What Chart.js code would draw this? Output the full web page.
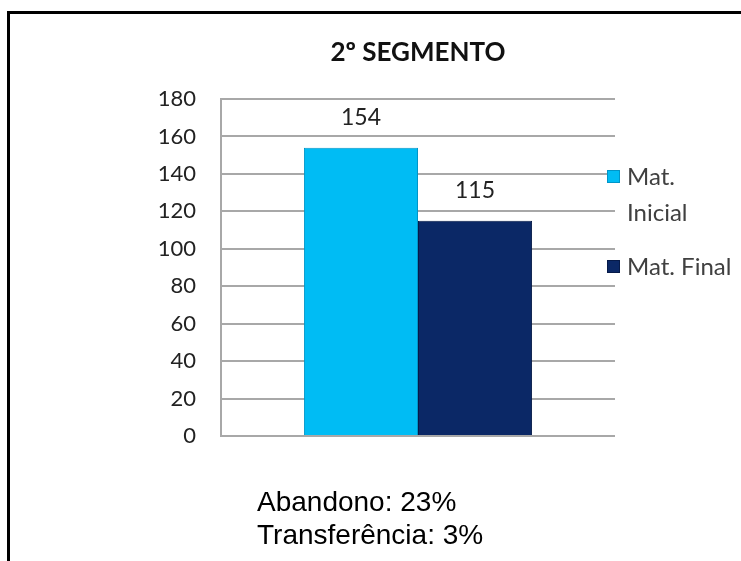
<!DOCTYPE html>
<html><head><meta charset="utf-8">
<script src="https://cdn.jsdelivr.net/npm/chart.js@4/dist/chart.umd.min.js"></script>
<style>
html,body{margin:0;padding:0;background:#fff;}
#wrap{position:relative;width:741px;height:561px;overflow:hidden;background:#fff;}
#frame{position:absolute;left:7px;top:11px;width:760px;height:600px;border-top:3px solid #000;border-left:3px solid #000;}
canvas{position:absolute;left:0;top:0;}
.note{position:absolute;left:257px;font-family:"Liberation Sans",Arial,sans-serif;font-size:28px;color:#000;line-height:30px;}
</style></head>
<body><div id="wrap"><div id="frame"></div><canvas id="c" width="741" height="561"></canvas>
<div class="note" style="top:487px">Abandono: 23%</div>
<div class="note" style="top:520px">Transferência: 3%</div>
</div>
<script>
const chartTitle = '2º SEGMENTO';
const categories = [''];
const seriesNames = ['Mat. Inicial', 'Mat. Final'];
const legendLines = [['Mat.', 'Inicial'], ['Mat. Final']];
const matInicial = [154];
const matFinal = [115];
const yMin = 0, yMax = 180, yStep = 20;

const colors = ['#00BCF4', '#0B2866'];
const borders = ['#0095C8', '#061A48'];

const extras = {
  id: 'extras',
  afterDatasetsDraw(chart) {
    const ctx = chart.ctx;
    ctx.save();
    // value labels
    ctx.font = '23px Lato, "Open Sans", sans-serif';
    ctx.fillStyle = '#222';
    ctx.textAlign = 'center';
    ctx.textBaseline = 'middle';
    chart.data.datasets.forEach((ds, i) => {
      const meta = chart.getDatasetMeta(i);
      meta.data.forEach((bar, j) => {
        ctx.fillText(String(ds.data[j]), bar.x, bar.y - 30);
      });
    });
    // title
    ctx.font = 'bold 26px Lato, "Open Sans", sans-serif';
    ctx.fillStyle = '#111';
    ctx.fillText(chartTitle, (chart.chartArea.left + chart.chartArea.right) / 2, 53);
    // legend
    const ys = [177, 267];
    ctx.textAlign = 'left';
    ctx.font = '24px Lato, "Open Sans", sans-serif';
    chart.data.datasets.forEach((ds, i) => {
      const y = ys[i];
      ctx.fillStyle = ds.backgroundColor;
      ctx.fillRect(607, y - 7, 13, 13);
      ctx.strokeStyle = ds.borderColor;
      ctx.lineWidth = 1;
      ctx.strokeRect(607.5, y - 6.5, 12, 12);
      ctx.fillStyle = '#404040';
      legendLines[i].forEach((t, k) => ctx.fillText(t, 627, y + k * 36));
    });
    ctx.restore();
  }
};

new Chart(document.getElementById('c'), {
  type: 'bar',
  data: {
    labels: categories,
    datasets: [
      { label: seriesNames[0], data: matInicial, backgroundColor: colors[0], borderColor: borders[0], borderWidth: 1 },
      { label: seriesNames[1], data: matFinal, backgroundColor: colors[1], borderColor: borders[1], borderWidth: 1 }
    ]
  },
  options: {
    responsive: false,
    animation: false,
    layout: { padding: { left: 100, right: 126, top: 99, bottom: 125 } },
    plugins: { legend: { display: false }, title: { display: false }, tooltip: { enabled: false } },
    datasets: { bar: { categoryPercentage: 0.579, barPercentage: 1 } },
    scales: {
      x: { display: false },
      y: {
        min: yMin, max: yMax,
        ticks: { stepSize: yStep, padding: 25, color: '#222', font: { family: 'Lato, "Open Sans", sans-serif', size: 22 } },
        grid: { color: '#A8A8A8', lineWidth: 2, drawTicks: false },
        border: { display: true, color: '#A8A8A8', width: 2 },
        afterFit(scale) { scale.width = 121; }
      }
    }
  },
  plugins: [extras]
});
</script>
</body></html>
